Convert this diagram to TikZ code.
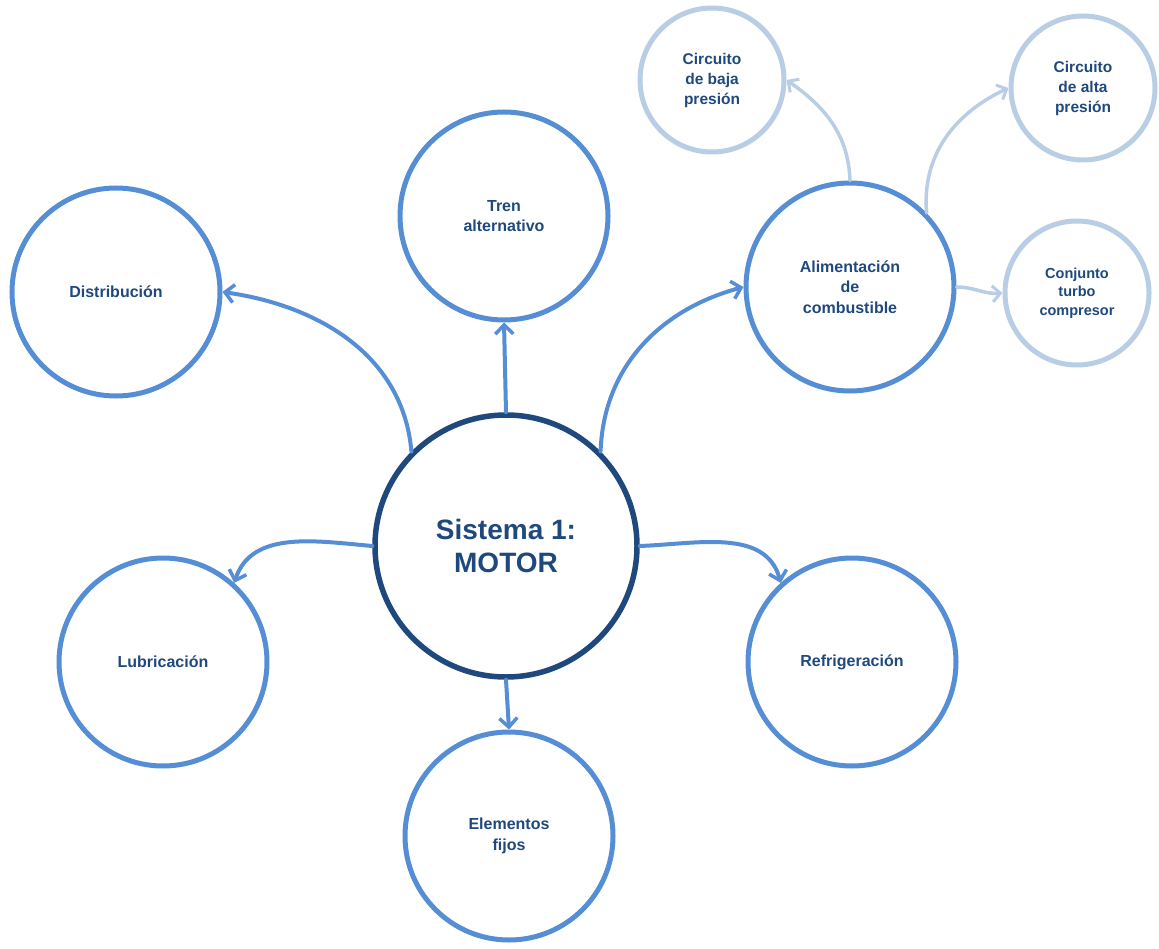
\documentclass[tikz,border=0pt]{standalone}
\usepackage{fontspec}
\setmainfont{Liberation Sans}
\usetikzlibrary{arrows.meta}
\definecolor{hub}{HTML}{1F497D}
\definecolor{mid}{HTML}{558ED5}
\definecolor{pale}{HTML}{B9CDE5}
\definecolor{ink}{HTML}{1F497D}
\tikzset{
  hubnode/.style={circle, draw=hub, line width=5.5pt, minimum size=262pt, inner sep=0pt,
    align=center, text=ink, font=\bfseries\fontsize{28}{33}\selectfont},
  topic/.style={circle, draw=mid, line width=5pt, minimum size=208pt, inner sep=0pt,
    align=center, text=ink, font=\bfseries\fontsize{16}{20.5}\selectfont},
  subtopic/.style={circle, draw=pale, line width=5pt, minimum size=144pt, inner sep=0pt,
    align=center, text=ink, font=\bfseries\fontsize{15.5}{20}\selectfont},
  link/.style={draw=mid, line width=4pt, line cap=round,
    -{Straight Barb[length=9pt, width=18pt, line width=3.5pt]}},
  sublink/.style={draw=pale, line width=3.5pt, line cap=round,
    -{Straight Barb[length=8pt, width=16pt, line width=3pt]}}
}
\begin{document}
\begin{tikzpicture}[x=1pt, y=-1pt]
\useasboundingbox (0,0) rectangle (1159,949);

% central system
\node[hubnode] (motor) at (506,546) {Sistema 1:\\MOTOR};

% first ring of subsystems
\node[topic] (dist)  at (116,292) {Distribución};
\node[topic] (tren)  at (504,216) {Tren\\alternativo};
\node[topic] (alim)  at (850,287) {Alimentación\\de\\combustible};
\node[topic] (lub)   at (163,662) {Lubricación};
\node[topic] (refr)  at (852,662) {Refrigeración};
\node[topic] (elem)  at (509,836) {Elementos\\fijos};

% fuel feed breakdown
\node[subtopic] (baja)  at (712,80)  {Circuito\\de baja\\presión};
\node[subtopic] (alta)  at (1083,88) {Circuito\\de alta\\presión};
\node[subtopic, font=\bfseries\fontsize{14.5}{18.5}\selectfont] (turbo) at (1077,293) {Conjunto\\turbo\\compresor};

% connectors from the motor
\draw[link] (motor.135) to[out=95, in=-8] (dist.east);
\draw[link] (motor.90) -- (tren.south);
\draw[link] (motor.45) to[out=88, in=195] (alim.west);
\draw[link] (motor.180) to[out=175, in=72] (lub.48);
\draw[link] (motor.0) to[out=2, in=105] (refr.132);
\draw[link] (motor.270) -- (elem.north);

% connectors from the fuel feed
\draw[sublink] (alim.90) to[out=92, in=-35] (baja.east);
\draw[sublink] (alim.44) to[out=95, in=205] (alta.west);
\draw[sublink] (alim.0) to[out=0, in=185] (turbo.west);
\end{tikzpicture}
\end{document}
